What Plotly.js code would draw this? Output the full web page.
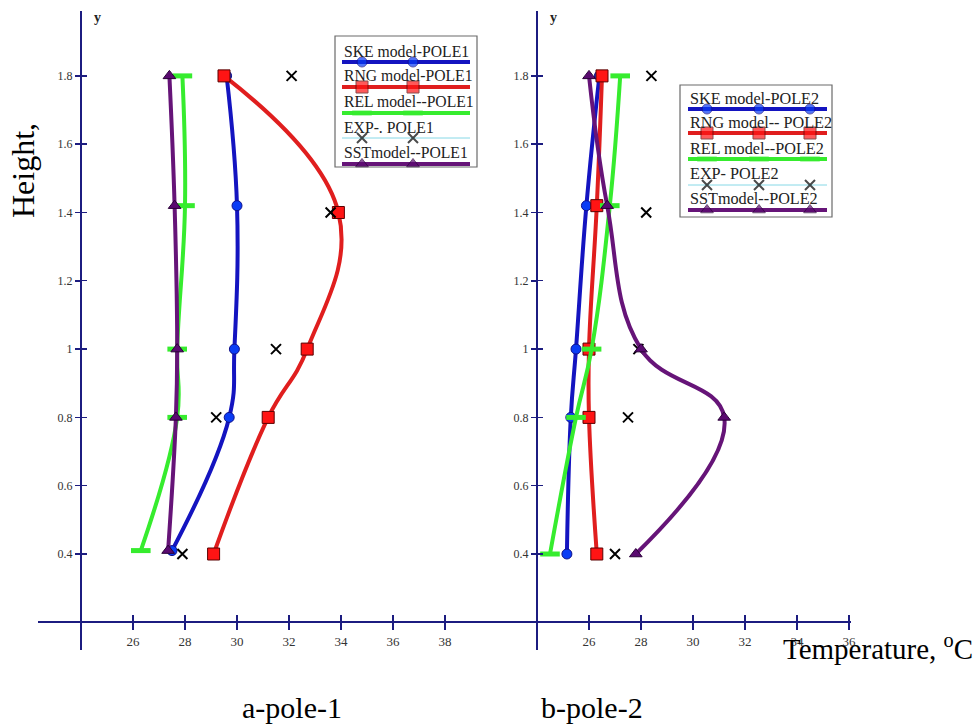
<!DOCTYPE html>
<html><head><meta charset="utf-8">
<script src="https://cdn.plot.ly/plotly-3.0.1.min.js"></script>
<style>html,body{margin:0;padding:0;background:#fff}#chart{width:977px;height:727px}</style>
</head><body><div id="chart"></div>
<script>
// ---------- DATA ----------
// a-pole-1 : temperature (°C) at each height
const p1_SKE_T = [27.5, 29.7, 29.9, 30.0, 29.6];
const p1_SKE_H = [0.41, 0.8, 1.0, 1.42, 1.8];
const p1_RNG_T = [29.1, 31.2, 32.7, 33.9, 29.5];
const p1_RNG_H = [0.4, 0.8, 1.0, 1.4, 1.8];
const p1_REL_T = [26.3, 27.7, 27.7, 28.0, 27.9];
const p1_REL_H = [0.41, 0.8, 1.0, 1.42, 1.8];
const p1_EXP_T = [27.9, 29.2, 31.5, 33.6, 32.1];
const p1_EXP_H = [0.4, 0.8, 1.0, 1.4, 1.8];
const p1_SST_T = [27.35, 27.65, 27.7, 27.6, 27.4];
const p1_SST_H = [0.41, 0.8, 1.0, 1.42, 1.8];

// b-pole-2
const p2_SKE_T = [25.15, 25.3, 25.5, 25.9, 26.4];
const p2_SKE_H = [0.4, 0.8, 1.0, 1.42, 1.8];
const p2_RNG_T = [26.3, 26.0, 26.0, 26.3, 26.5];
const p2_RNG_H = [0.4, 0.8, 1.0, 1.42, 1.8];
const p2_REL_T = [24.5, 25.5, 26.1, 26.8, 27.2];
const p2_REL_H = [0.4, 0.8, 1.0, 1.42, 1.8];
const p2_EXP_T = [27.0, 27.5, 27.9, 28.2, 28.4];
const p2_EXP_H = [0.4, 0.8, 1.0, 1.4, 1.8];
const p2_SST_T = [27.8, 31.2, 28.0, 26.7, 26.0];
const p2_SST_H = [0.4, 0.8, 1.0, 1.42, 1.8];

const names1 = ['SKE model-POLE1', 'RNG model-POLE1', 'REL model--POLE1', 'EXP-. POLE1', 'SSTmodel--POLE1'];
const names2 = ['SKE model-POLE2', 'RNG model-- POLE2', 'REL model--POLE2', 'EXP- POLE2', 'SSTmodel--POLE2'];

const xTicks1 = [26, 28, 30, 32, 34, 36, 38, 40];
const xTicks2 = [26, 28, 30, 32, 34, 36];
const yTicks = [0.4, 0.6, 0.8, 1, 1.2, 1.4, 1.6, 1.8];

const xTitle = 'Temperature, <sup>o</sup>C';
const yTitle = 'Height,';
const caption1 = 'a-pole-1';
const caption2 = 'b-pole-2';

// ---------- STYLE ----------
const FONT = 'Liberation Serif, Times New Roman, serif';
const AX = '#1c1c80';
const styles = [
  {mode: 'lines+markers', line: '#1414c0', marker: {symbol: 'circle', size: 10, color: '#0a3cf5', line: {color: '#10108a', width: 1}}},
  {mode: 'lines+markers', line: '#e01e1e', marker: {symbol: 'square', size: 12, color: '#ff1414', line: {color: '#5a0000', width: 1}}},
  {mode: 'lines+markers', line: '#36ec2e', marker: {symbol: 'line-ew', size: 14, color: '#36ec2e', line: {color: '#36ec2e', width: 5}}},
  {mode: 'markers', line: '#86d8e6', marker: {symbol: 'x-thin', size: 10, color: '#000', line: {color: '#000', width: 2}}},
  {mode: 'lines+markers', line: '#661478', marker: {symbol: 'triangle-up', size: 11, color: '#5a0a70', line: {color: '#2a0038', width: 1}}}
];

const pole1 = [[p1_SKE_T, p1_SKE_H], [p1_RNG_T, p1_RNG_H], [p1_REL_T, p1_REL_H], [p1_EXP_T, p1_EXP_H], [p1_SST_T, p1_SST_H]];
const pole2 = [[p2_SKE_T, p2_SKE_H], [p2_RNG_T, p2_RNG_H], [p2_REL_T, p2_REL_H], [p2_EXP_T, p2_EXP_H], [p2_SST_T, p2_SST_H]];

const traces = [];
function addPole(series, xa, ya) {
  series.forEach((s, i) => {
    const st = styles[i];
    traces.push({
      x: s[0], y: s[1], xaxis: xa, yaxis: ya, type: 'scatter', mode: st.mode,
      line: {shape: 'spline', smoothing: 1.2, width: 4, color: st.line},
      marker: st.marker, showlegend: false, cliponaxis: false, hoverinfo: 'skip'
    });
  });
}
addPole(pole1, 'x', 'y');
addPole(pole2, 'x2', 'y2');

// ---------- custom legends (pixel frame on overlay axes x3/y3) ----------
const legendCfg = [
  {names: names1, box: [335, 36, 477, 167], textX: 342, font: 15.7, base: [57, 81, 107, 133, 158], lineY: [62, 87, 113, 138, 164], lineX: [342, 470], marks: [362, 413]},
  {names: names2, box: [680, 85, 832, 217], textX: 688, font: 16.2, base: [105, 129, 155, 180, 205], lineY: [109, 133, 159, 185, 210], lineX: [688, 827], marks: [707, 759, 810]}
];
const shapes = [];
const annotations = [];
legendCfg.forEach(L => {
  shapes.push({type: 'rect', xref: 'x3', yref: 'y3', x0: L.box[0], y0: L.box[1], x1: L.box[2], y1: L.box[3],
    line: {color: '#6a6a6a', width: 1.2}, fillcolor: 'rgba(0,0,0,0)', layer: 'below'});
  L.names.forEach((n, i) => {
    const st = styles[i];
    annotations.push({xref: 'x3', yref: 'y3', x: L.textX, y: L.base[i] - L.font * 0.34, xanchor: 'left', yanchor: 'middle',
      text: n, showarrow: false, font: {family: FONT, size: L.font, color: '#222'}});
    const xs = [L.lineX[0]].concat(L.marks, [L.lineX[1]]);
    const ys = xs.map(() => L.lineY[i]);
    const sizes = xs.map((v, k) => (k === 0 || k === xs.length - 1) ? 0 : st.marker.size);
    traces.push({x: xs, y: ys, xaxis: 'x3', yaxis: 'y3', type: 'scatter', mode: 'lines+markers',
      line: {width: i === 3 ? 1 : 4, color: st.line},
      marker: Object.assign({}, st.marker, {size: sizes}), showlegend: false, hoverinfo: 'skip', cliponaxis: false});
  });
});

// titles / captions
annotations.push(
  {xref: 'x3', yref: 'y3', x: 23, y: 171, text: yTitle, textangle: -90, showarrow: false, font: {family: FONT, size: 32, color: '#000'}},
  {xref: 'x3', yref: 'y3', x: 781, y: 647, xanchor: 'left', yanchor: 'middle', text: xTitle, showarrow: false, font: {family: FONT, size: 29, color: '#000'}},
  {xref: 'x3', yref: 'y3', x: 292, y: 707, text: caption1, showarrow: false, font: {family: FONT, size: 30, color: '#000'}},
  {xref: 'x3', yref: 'y3', x: 592, y: 707, text: caption2, showarrow: false, font: {family: FONT, size: 30, color: '#000'}},
  {xref: 'x3', yref: 'y3', x: 97, y: 17, text: '<b>y</b>', showarrow: false, font: {family: FONT, size: 14, color: '#222'}},
  {xref: 'x3', yref: 'y3', x: 553, y: 17, text: '<b>y</b>', showarrow: false, font: {family: FONT, size: 14, color: '#222'}}
);

// ---------- axes ----------
const W = 977, H = 727;
function xAx(pxL, pxR, range, ticks) {
  return {domain: [pxL / W, pxR / W], range: range, anchor: 'free', position: (H - 622) / H,
    showline: true, linecolor: AX, linewidth: 2, ticks: 'outside', ticklen: 7, tickwidth: 1.5, tickcolor: AX,
    tickmode: 'array', tickvals: ticks, ticktext: ticks.map(String), showgrid: false, zeroline: false,
    tickfont: {family: FONT, size: 13, color: '#333'},
    minor: {tickmode: 'array', tickvals: ticks.map(v => v + 0.002), ticks: 'inside', ticklen: 6, tickwidth: 1.5, tickcolor: AX, showgrid: false}};
}
function yAx(pxPos) {
  return {domain: [(H - 650) / H, (H - 11) / H], range: [0.1189, 1.99], anchor: 'free', position: pxPos / W,
    showline: true, linecolor: AX, linewidth: 2, ticks: 'outside', ticklen: 5, tickwidth: 1.5, tickcolor: AX,
    tickmode: 'array', tickvals: yTicks, ticktext: yTicks.map(String), showgrid: false, zeroline: false,
    tickfont: {family: FONT, size: 12, color: '#333'},
    minor: {tickmode: 'array', tickvals: yTicks.map(v => v + 0.0002), ticks: 'inside', ticklen: 5, tickwidth: 1.5, tickcolor: AX, showgrid: false}};
}

const layout = {
  width: W, height: H, margin: {l: 0, r: 0, t: 0, b: 0},
  paper_bgcolor: '#fff', plot_bgcolor: 'rgba(0,0,0,0)', showlegend: false,
  font: {family: FONT},
  xaxis: xAx(38, 494, [22.346, 39.885], xTicks1),
  xaxis2: xAx(494, 851, [22.346, 36.077], xTicks2),
  yaxis: yAx(81),
  yaxis2: yAx(537),
  xaxis3: {domain: [0, 1], range: [0, W], visible: false, anchor: 'y3', fixedrange: true},
  yaxis3: {domain: [0, 1], range: [H, 0], visible: false, anchor: 'x3', fixedrange: true},
  shapes: shapes, annotations: annotations
};

Plotly.newPlot('chart', traces, layout, {staticPlot: true});
</script>
</body></html>
